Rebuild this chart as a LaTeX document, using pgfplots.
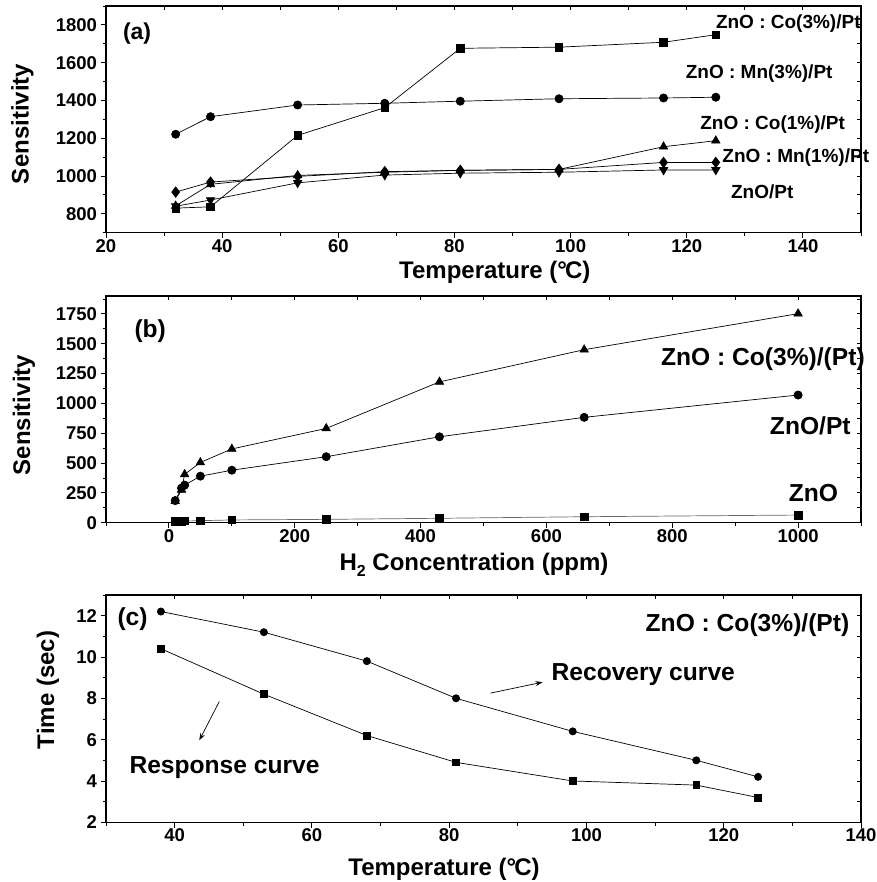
\documentclass[border=0pt]{standalone}
\usepackage{fontspec}
\setmainfont{Liberation Sans}
\usepackage{pgfplots}
\pgfplotsset{compat=1.18}
\usetikzlibrary{arrows.meta}

\newcommand\tickfont{\fontsize{18.5}{20}\selectfont\bfseries}
\newcommand\labfont{\fontsize{24}{27}\selectfont\bfseries}
\newcommand\annA{\fontsize{19}{21}\selectfont\bfseries}
\newcommand\annB{\fontsize{24.6}{27}\selectfont\bfseries}
\newcommand\degC{\textdegree\kern-0.08em C}
\newcommand\Hsub{H\raisebox{-0.55ex}{\fontsize{16}{17}\selectfont 2}}

\pgfplotsset{
  base/.style={scale only axis, width=755pt, height=226.7pt, clip=false,
    axis line style={line width=1.2pt, black},
    tick style={line width=0.9pt, black}},
  outer/.style={base, tick align=outside, xtick pos=left, ytick pos=left,
    major tick length=5.5pt, minor tick length=3.3pt,
    ticklabel style={font=\tickfont},
    xticklabel style={inner sep=1pt},
    /pgf/number format/assume math mode=true,
    /pgf/number format/1000 sep={},
    xlabel style={font=\labfont, anchor=base},
    ylabel style={font=\labfont, anchor=center}},
  inner/.style={base, tick align=inside, xtick pos=right, ytick pos=right,
    major tick length=4.3pt, minor tick length=4.3pt,
    xticklabels={}, yticklabels={}},
  ser/.style={black, line width=0.7pt, mark options={solid, fill=black, draw=black}},
}

\begin{document}
\begin{tikzpicture}
\path[use as bounding box] (0pt,0pt) rectangle (876pt,882pt);

% ---------------- panel (a)
\begin{axis}[outer, at={(106pt,649.3pt)}, anchor=south west,
  xmin=20, xmax=150, ymin=700, ymax=1900,
  xtick={20,40,...,140}, minor xtick={30,50,...,150},
  ytick={800,1000,...,1800}, minor ytick={700,900,...,1900},
  xlabel={Temperature (\degC)}, ylabel={Sensitivity},
  xlabel style={at={(axis description cs:0.515,-0.2)}},
  ylabel style={at={(axis description cs:-0.1106,0.4795)}}]
\addplot[ser, mark=square*, mark size=3.8pt] coordinates {(32,830) (38,837) (53,1215) (68,1362) (81,1676) (98,1682) (116,1708) (125,1748)};
\addplot[ser, mark=*, mark size=4.1pt] coordinates {(32,1221) (38,1314) (53,1376) (68,1385) (81,1396) (98,1409) (116,1413) (125,1417)};
\addplot[ser, mark=triangle*, mark size=4.8pt] coordinates {(32,842) (38,956) (53,1003) (68,1020) (81,1030) (98,1035) (116,1155) (125,1187)};
\addplot[ser, mark=diamond*, mark size=5.2pt] coordinates {(32,915) (38,968) (53,998) (68,1023) (81,1030) (98,1035) (116,1072) (125,1072)};
\addplot[ser, mark=triangle*, mark size=4.8pt, mark options={rotate=180}] coordinates {(32,840) (38,873) (53,964) (68,1005) (81,1015) (98,1020) (116,1032) (125,1032)};
\node[anchor=west, inner sep=0pt, font=\fontsize{23}{25}\selectfont\bfseries] at (axis cs:22.9,1752) {(a)};
\node[anchor=west, inner sep=0pt, font=\annA] at (axis cs:125.0,1806) {ZnO : Co(3\%)/Pt};
\node[anchor=west, inner sep=0pt, font=\annA] at (axis cs:119.8,1540) {ZnO : Mn(3\%)/Pt};
\node[anchor=west, inner sep=0pt, font=\annA] at (axis cs:122.3,1272) {ZnO : Co(1\%)/Pt};
\node[anchor=west, inner sep=0pt, font=\annA] at (axis cs:126.1,1098) {ZnO : Mn(1\%)/Pt};
\node[anchor=west, inner sep=0pt, font=\annA] at (axis cs:127.6,917) {ZnO/Pt};
\end{axis}
\begin{axis}[inner, at={(106pt,649.3pt)}, anchor=south west,
  xmin=20, xmax=150, ymin=700, ymax=1900,
  xtick={20,40,...,140}, minor xtick={30,50,...,150},
  ytick={800,1000,...,1800}, minor ytick={700,900,...,1900}]
\end{axis}

% ---------------- panel (b)
\begin{axis}[outer, at={(106pt,359.3pt)}, anchor=south west,
  xmin=-100, xmax=1100, ymin=0, ymax=1900,
  xtick={0,200,...,1000}, minor xtick={-100,100,...,1100},
  ytick={0,250,...,1750}, minor ytick={125,375,...,1875},
  xlabel={\Hsub\ Concentration (ppm)}, ylabel={Sensitivity},
  xlabel style={at={(axis description cs:0.4874,-0.2087)}},
  ylabel style={at={(axis description cs:-0.1086,0.475)}}]
\addplot[ser, draw=black!60, mark=square*, mark size=3.8pt] coordinates {(10,12) (20,13) (25,14) (50,17) (100,23) (250,28) (430,37) (660,50) (1000,64)};
\addplot[ser, mark=*, mark size=4.1pt] coordinates {(10,185) (20,290) (25,315) (50,390) (100,440) (250,553) (430,720) (660,883) (1000,1070)};
\addplot[ser, mark=triangle*, mark size=4.8pt] coordinates {(10,180) (20,275) (25,405) (50,505) (100,618) (250,790) (430,1180) (660,1450) (1000,1752)};
\node[anchor=west, inner sep=0pt, font=\annB] at (axis cs:-55,1607) {(b)};
\node[anchor=west, inner sep=0pt, font=\annB] at (axis cs:782,1372) {ZnO : Co(3\%)/(Pt)};
\node[anchor=west, inner sep=0pt, font=\annB] at (axis cs:955,811) {ZnO/Pt};
\node[anchor=west, inner sep=0pt, font=\annB] at (axis cs:985,246) {ZnO};
\end{axis}
\begin{axis}[inner, at={(106pt,359.3pt)}, anchor=south west,
  xmin=-100, xmax=1100, ymin=0, ymax=1900,
  xtick={0,200,...,1000}, minor xtick={-100,100,...,1100},
  ytick={0,250,...,1750}, minor ytick={125,375,...,1875}]
\end{axis}

% ---------------- panel (c)
\begin{axis}[outer, at={(106pt,59.7pt)}, anchor=south west, height=227.3pt,
  xmin=30, xmax=140, ymin=2, ymax=13,
  xtick={40,60,...,140}, minor xtick={30,50,...,130},
  ytick={2,4,...,12}, minor ytick={3,5,...,13},
  xlabel={Temperature (\degC)}, ylabel={Time (sec)},
  xlabel style={at={(axis description cs:0.4477,-0.232)}},
  ylabel style={at={(axis description cs:-0.0768,0.582)}}]
\addplot[ser, mark=*, mark size=3.6pt] coordinates {(38,12.2) (53,11.2) (68,9.8) (81,8.0) (98,6.4) (116,5.0) (125,4.2)};
\addplot[ser, mark=square*, mark size=3.4pt] coordinates {(38,10.4) (53,8.2) (68,6.2) (81,4.9) (98,4.0) (116,3.8) (125,3.2)};
\node[anchor=west, inner sep=0pt, font=\annB] at (axis cs:31.65,11.85) {(c)};
\node[anchor=west, inner sep=0pt, font=\annB] at (axis cs:108.6,11.56) {ZnO : Co(3\%)/(Pt)};
\node[anchor=west, inner sep=0pt, font=\annB] at (axis cs:94.9,9.14) {Recovery curve};
\node[anchor=west, inner sep=0pt, font=\annB] at (axis cs:33.4,4.65) {Response curve};
\draw[-{Stealth[length=7pt,width=5pt]}, line width=0.7pt] (axis cs:86.0,8.25) -- (axis cs:93.6,8.78);
\draw[-{Stealth[length=7pt,width=5pt]}, line width=0.7pt] (axis cs:46.5,7.84) -- (axis cs:43.6,5.97);
\end{axis}
\begin{axis}[inner, at={(106pt,59.7pt)}, anchor=south west, height=227.3pt,
  xmin=30, xmax=140, ymin=2, ymax=13,
  xtick={40,60,...,140}, minor xtick={30,50,...,130},
  ytick={2,4,...,12}, minor ytick={3,5,...,13}]
\end{axis}
\end{tikzpicture}
\end{document}
